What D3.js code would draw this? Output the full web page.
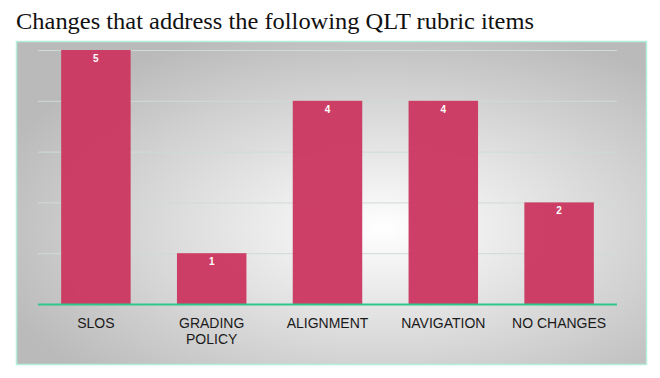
<!DOCTYPE html>
<html>
<head>
<meta charset="utf-8">
<script src="https://cdn.jsdelivr.net/npm/d3@7"></script>
<style>
  body { margin: 0; background: #fff; }
  svg { display: block; }
</style>
</head>
<body>
<div id="chart"></div>
<script>
// chart data
const categories = [["SLOS"], ["GRADING", "POLICY"], ["ALIGNMENT"], ["NAVIGATION"], ["NO CHANGES"]];
const counts = [5, 1, 4, 4, 2];
const yTicks = [0, 1, 2, 3, 4, 5];
const title = "Changes that address the following QLT rubric items";

const W = 660, H = 378;

const svg = d3.select("#chart").append("svg")
    .attr("width", W)
    .attr("height", H);

// radial grey background for the panel
const defs = svg.append("defs");
const grad = defs.append("radialGradient")
    .attr("id", "panelGrad")
    .attr("cx", "58%").attr("cy", "58%").attr("r", "65%");
grad.append("stop").attr("offset", "0%").attr("stop-color", "#ffffff");
grad.append("stop").attr("offset", "100%").attr("stop-color", "#bababa");

svg.append("text")
    .attr("x", 16)
    .attr("y", 29)
    .attr("font-family", "'Liberation Serif', 'Times New Roman', serif")
    .attr("font-size", 24)
    .attr("fill", "#111")
    .attr("textLength", 518)
    .attr("lengthAdjust", "spacingAndGlyphs")
    .text(title);

const panel = { x: 16, y: 41, w: 630, h: 323 };
svg.append("rect")
    .attr("x", panel.x + 0.5).attr("y", panel.y + 0.5)
    .attr("width", panel.w).attr("height", panel.h)
    .attr("fill", "url(#panelGrad)")
    .attr("stroke", "#b5eedb")
    .attr("stroke-width", 1.5);

const plot = { left: 38, right: 617, top: 50, bottom: 304 };

const x = d3.scaleBand()
    .domain(d3.range(categories.length))
    .range([plot.left, plot.right])
    .paddingInner(0.4)
    .paddingOuter(0.2);

const y = d3.scaleLinear()
    .domain([0, 5])
    .range([plot.bottom, plot.top]);

// gridlines
svg.append("g")
    .selectAll("line")
    .data(yTicks.filter(d => d > 0))
    .join("line")
    .attr("x1", plot.left).attr("x2", plot.right)
    .attr("y1", d => y(d) + 0.5).attr("y2", d => y(d) + 0.5)
    .attr("stroke", "#cfdcd5")
    .attr("stroke-width", 1);

// bars
svg.append("g")
    .selectAll("rect")
    .data(counts)
    .join("rect")
    .attr("x", (d, i) => x(i))
    .attr("y", d => y(d))
    .attr("width", x.bandwidth())
    .attr("height", d => y(0) - y(d))
    .attr("fill", "#cb3961")
    .attr("fill-opacity", 0.97);

// value labels
svg.append("g")
    .selectAll("text")
    .data(counts)
    .join("text")
    .attr("x", (d, i) => x(i) + x.bandwidth() / 2)
    .attr("y", d => y(d) + 12)
    .attr("text-anchor", "middle")
    .attr("font-family", "'Liberation Sans', Arial, sans-serif")
    .attr("font-weight", "bold")
    .attr("font-size", 10)
    .attr("fill", "#fff")
    .text(d => d);

// baseline
svg.append("line")
    .attr("x1", plot.left).attr("x2", plot.right)
    .attr("y1", plot.bottom + 0.5).attr("y2", plot.bottom + 0.5)
    .attr("stroke", "#2fc68c")
    .attr("stroke-width", 2);

// category labels
const labels = svg.append("g")
    .selectAll("text")
    .data(categories)
    .join("text")
    .attr("text-anchor", "middle")
    .attr("font-family", "'Liberation Sans', Arial, sans-serif")
    .attr("font-size", 14)
    .attr("fill", "#1a1a1a");

labels.selectAll("tspan")
    .data((d, i) => d.map((t, j) => ({ t, j, i })))
    .join("tspan")
    .attr("x", d => x(d.i) + x.bandwidth() / 2)
    .attr("y", d => 328 + d.j * 16)
    .text(d => d.t);
</script>
</body>
</html>
